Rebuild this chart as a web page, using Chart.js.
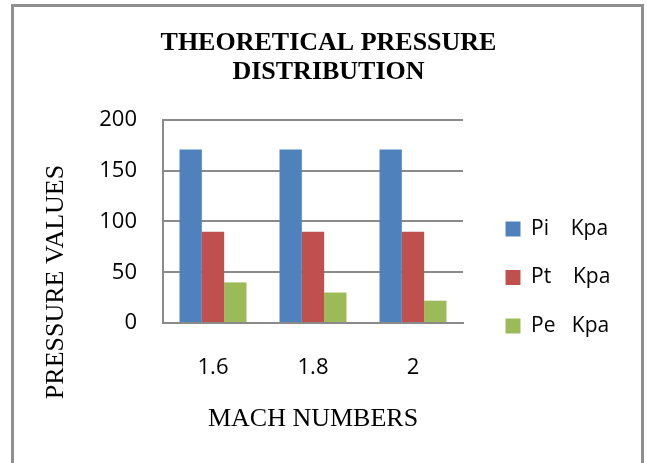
<!DOCTYPE html>
<html>
<head>
<meta charset="utf-8">
<script src="https://cdn.jsdelivr.net/npm/chart.js@4.4.1/dist/chart.umd.min.js"></script>
<style>
  body { margin: 0; background: #fff; }
  #wrap { position: relative; width: 647px; height: 463px; overflow: hidden; }
  #frame {
    position: absolute; left: 11px; top: 4px; width: 627px; height: 480px;
    border: 3px solid #8f8f8f; pointer-events: none;
  }
</style>
</head>
<body>
<div id="wrap">
  <canvas id="pressureChart" width="647" height="463"></canvas>
  <div id="frame"></div>
</div>
<script>
// data
const machNumbers = ['1.6', '1.8', '2'];
const piValues = [171, 171, 171];
const ptValues = [90, 90, 90];
const peValues = [40, 30, 22];
const seriesLabels = ['Pi    Kpa', 'Pt    Kpa', 'Pe   Kpa'];
const seriesColors = ['#4F81BD', '#C0504D', '#9BBB59'];
const yTicks = [0, 50, 100, 150, 200];

const serif = "'Liberation Serif', 'Times New Roman', serif";
const sans = "'Open Sans', 'DejaVu Sans', sans-serif";

// y title sits lower than the axis centre in the original, so draw it here
const yTitlePlugin = {
    id: 'yTitle',
    afterDraw(chart) {
        const ctx = chart.ctx;
        ctx.save();
        ctx.translate(56, 282);
        ctx.rotate(-Math.PI / 2);
        ctx.font = '26px ' + serif;
        ctx.fillStyle = '#000';
        ctx.textAlign = 'center';
        ctx.textBaseline = 'middle';
        ctx.fillText('PRESSURE VALUES', 0, 0);
        ctx.restore();
    }
};

// move the legend block to where it sits in the original
const legendPlacePlugin = {
    id: 'legendPlace',
    afterLayout(chart) {
        const lg = chart.legend;
        if (!lg) return;
        lg.left = 478;
        lg.right = 647;
        lg.width = lg.right - lg.left;
        lg.top = 191;
        lg.bottom = 463;
        lg.height = lg.bottom - lg.top;
    }
};

const ctx = document.getElementById('pressureChart').getContext('2d');
new Chart(ctx, {
    type: 'bar',
    data: {
        labels: machNumbers,
        datasets: [
            { label: seriesLabels[0], data: piValues, backgroundColor: seriesColors[0] },
            { label: seriesLabels[1], data: ptValues, backgroundColor: seriesColors[1] },
            { label: seriesLabels[2], data: peValues, backgroundColor: seriesColors[2] }
        ]
    },
    options: {
        responsive: false,
        animation: false,
        devicePixelRatio: 1,
        categoryPercentage: 0.67,
        barPercentage: 1.0,
        layout: { padding: { left: 10, right: 0, top: 0, bottom: 0 } },
        plugins: {
            title: {
                display: true,
                text: ['THEORETICAL PRESSURE', 'DISTRIBUTION'],
                color: '#000',
                font: { family: serif, size: 26, weight: 'bold', lineHeight: 1.115 },
                padding: { top: 28.5, bottom: 33.5 }
            },
            legend: {
                position: 'right',
                align: 'start',
                maxWidth: 100,
                labels: {
                    boxWidth: 15,
                    boxHeight: 15,
                    padding: 27.5,
                    color: '#000',
                    font: { family: sans, size: 21 }
                }
            },
            tooltip: { enabled: false }
        },
        scales: {
            x: {
                grid: { display: false },
                border: { display: true, color: '#8a8a8a', width: 2 },
                ticks: { color: '#000', font: { family: sans, size: 22 }, padding: 24 },
                title: {
                    display: true,
                    text: 'MACH NUMBERS',
                    color: '#000',
                    font: { family: serif, size: 26 },
                    padding: { top: 0, bottom: 28 }
                },
                afterFit(scale) { scale.height = 140; }
            },
            y: {
                min: 0,
                max: 200,
                afterBuildTicks(scale) { scale.ticks = yTicks.map(v => ({ value: v })); },
                grid: { color: '#8a8a8a', lineWidth: 2, drawTicks: false },
                border: { display: true, color: '#8a8a8a', width: 2 },
                ticks: { color: '#000', font: { family: sans, size: 22 }, padding: 26 },
                afterFit(scale) { scale.width = 153; }
            },
            y2: {
                position: 'right',
                grid: { display: false },
                border: { display: false },
                ticks: { display: false },
                afterFit(scale) { scale.width = 84; }
            }
        }
    },
    plugins: [yTitlePlugin, legendPlacePlugin]
});
</script>
</body>
</html>
